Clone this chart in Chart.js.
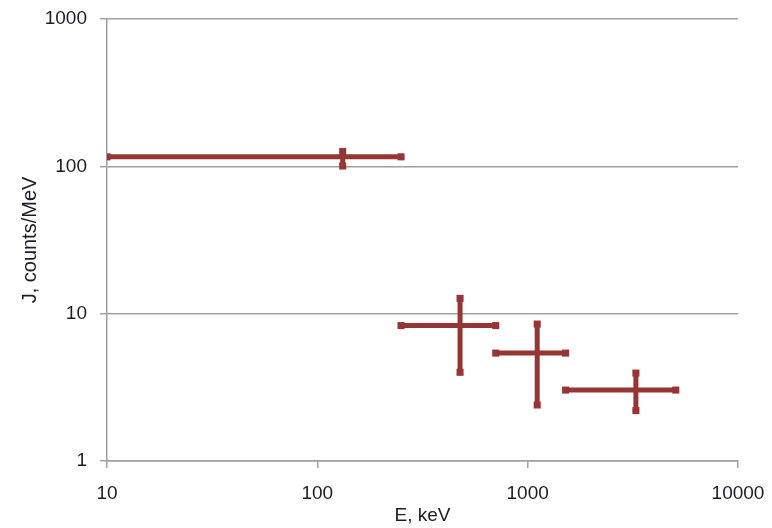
<!DOCTYPE html>
<html>
<head>
<meta charset="utf-8">
<script src="https://cdn.jsdelivr.net/npm/chart.js@4/dist/chart.umd.min.js"></script>
<style>
  html, body { margin: 0; padding: 0; background: #fff; }
  #wrap { width: 772px; height: 528px; }
</style>
</head>
<body>
<div id="wrap"><canvas id="spectrumChart"></canvas></div>
<script>
// energy bins, keV
const eCenter = [132, 477, 1110, 3270];
const eLow = [10, 250, 705, 1515];
const eHigh = [250, 705, 1515, 5060];
// flux, counts/MeV
const jValue = [116, 8.3, 5.4, 3.03];
const jLow = [100.5, 4.0, 2.4, 2.2];
const jHigh = [126, 12.7, 8.5, 3.95];
// tick labels
const xTicks = [10, 100, 1000, 10000];
const yTicks = [1, 10, 100, 1000];

const barColor = '#963634';
const axisColor = '#a0a0a0';
const textColor = '#1c1c28';
const fontFamily = 'Liberation Sans, Arial, sans-serif';

document.addEventListener('DOMContentLoaded', () => {
    const canvas = document.getElementById('spectrumChart');
    if (!canvas) return;

    // по два отрезка на каждую точку: по энергии и по потоку
    const datasets = [];
    eCenter.forEach((e, i) => {
        const common = {
            showLine: true,
            borderColor: barColor,
            backgroundColor: barColor,
            borderWidth: 5,
            pointStyle: 'rect',
            pointRadius: 5,
            pointBorderWidth: 0,
            pointHoverRadius: 5
        };
        datasets.push(Object.assign({
            label: 'E' + i,
            data: [{ x: eLow[i], y: jValue[i] }, { x: eHigh[i], y: jValue[i] }]
        }, common));
        datasets.push(Object.assign({
            label: 'J' + i,
            data: [{ x: e, y: jLow[i] }, { x: e, y: jHigh[i] }]
        }, common));
    });

    new Chart(canvas.getContext('2d'), {
        type: 'scatter',
        data: { datasets: datasets },
        options: {
            responsive: true,
            maintainAspectRatio: false,
            animation: false,
            layout: { padding: { top: 19, right: 34, bottom: 1, left: 18 } },
            plugins: {
                legend: { display: false },
                tooltip: { enabled: false }
            },
            scales: {
                x: {
                    type: 'logarithmic',
                    min: 10,
                    max: 10000,
                    afterBuildTicks: (axis) => { axis.ticks = xTicks.map(v => ({ value: v })); },
                    // фиксируем размеры оси, чтобы область графика совпала
                    afterFit: (axis) => {
                        axis.paddingLeft = 0;
                        axis.paddingRight = 0;
                        axis.height = 66;
                    },
                    ticks: {
                        color: textColor,
                        font: { family: fontFamily, size: 19, lineHeight: 1 },
                        padding: 16,
                        maxRotation: 0,
                        callback: (v) => String(v)
                    },
                    grid: {
                        drawOnChartArea: false,
                        drawTicks: true,
                        tickLength: 7,
                        color: axisColor,
                        lineWidth: 1.5
                    },
                    border: { color: axisColor, width: 1.5 },
                    title: {
                        display: true,
                        text: 'E, keV',
                        color: textColor,
                        font: { family: fontFamily, size: 19 },
                        padding: { top: 0, bottom: 0 }
                    }
                },
                y: {
                    type: 'logarithmic',
                    min: 1,
                    max: 1000,
                    afterBuildTicks: (axis) => { axis.ticks = yTicks.map(v => ({ value: v })); },
                    afterFit: (axis) => {
                        axis.paddingTop = 0;
                        axis.paddingBottom = 0;
                        axis.width = 89;
                    },
                    ticks: {
                        color: textColor,
                        font: { family: fontFamily, size: 19 },
                        padding: 13,
                        callback: (v) => String(v)
                    },
                    grid: {
                        drawTicks: true,
                        tickLength: 7,
                        color: axisColor,
                        lineWidth: 1.5
                    },
                    border: { color: axisColor, width: 1.5 },
                    title: {
                        display: true,
                        text: 'J, counts/MeV',
                        color: textColor,
                        font: { family: fontFamily, size: 20 },
                        padding: { top: 0, bottom: 0 }
                    }
                }
            }
        }
    });
});
</script>
</body>
</html>
